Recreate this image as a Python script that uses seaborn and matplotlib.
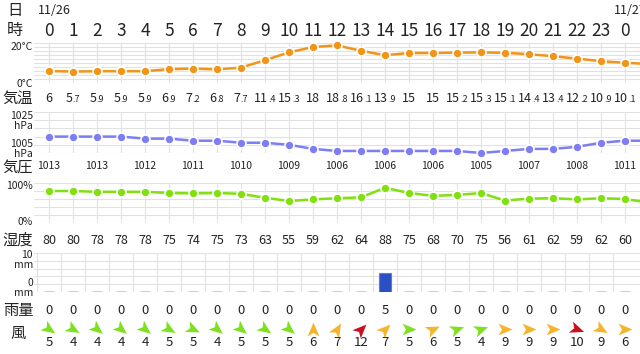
import matplotlib.pyplot as plt
import numpy as np
import seaborn as sns
from matplotlib.markers import MarkerStyle
from matplotlib.path import Path
from matplotlib.transforms import Affine2D, blended_transform_factory
from matplotlib.offsetbox import TextArea, HPacker, AnnotationBbox

# ── data ────────────────────────────────────────────────────────────────
hour_labels = [str(h) for h in range(24)] + ["0"]
temp = [6, 5.7, 5.9, 5.9, 5.9, 6.9, 7.2, 6.8, 7.7, 11.4, 15.3, 18, 18.8,
        16.1, 13.9, 15, 15, 15.2, 15.3, 15.1, 14.4, 13.4, 12.2, 10.9, 10.1]
temp_next = 9.5
pressure = [1013, 1013, 1013, 1013, 1012, 1012, 1011, 1011, 1010, 1010, 1009,
            1007, 1006, 1006, 1006, 1006, 1006, 1006, 1005, 1006, 1007, 1007,
            1008, 1010, 1011]
pressure_next = 1011
humidity = [80, 80, 78, 78, 78, 75, 74, 75, 73, 63, 55, 59, 62, 64, 88, 75,
            68, 70, 75, 56, 61, 62, 59, 62, 60]
humidity_next = 51
rain = [0, 0, 0, 0, 0, 0, 0, 0, 0, 0, 0, 0, 0, 0, 5, 0, 0, 0, 0, 0, 0, 0, 0, 0, 0]
wind_speed = [5, 4, 4, 4, 4, 5, 5, 4, 5, 5, 5, 6, 7, 12, 7, 5, 6, 5, 4, 9, 9,
              9, 10, 9, 6]
wind_angle = [-35, -30, -40, -40, -40, -30, -25, -40, -40, -35, -40, 90, 60,
              45, 45, 0, 25, 20, 20, 0, 0, 0, -20, -30, 0]

TXT = "#222222"
C_TEMP, C_PRES, C_HUM, C_RAIN = "#f29418", "#7d7df5", "#80e010", "#2b4fc4"
GRID = "#e2e2e2"

sns.set_theme(style="white")
plt.rcParams["font.family"] = ["Noto Sans CJK JP", "DejaVu Sans"]

W, H = 640, 354
fig = plt.figure(figsize=(W / 100, H / 100), dpi=100)
hours = np.arange(len(hour_labels))
hours_ext = np.arange(len(hour_labels) + 1)


def fy(ypx):
    return 1 - ypx / H


def panel(top, bottom, ylim, yticks, xgrid):
    ax = fig.add_axes([34 / W, fy(bottom), (W - 34) / W, (bottom - top) / H])
    ax.set_xlim(-0.625, 24.625)
    ax.set_ylim(*ylim)
    ax.set_xticks(xgrid)
    ax.set_yticks(yticks)
    ax.grid(True, color=GRID, lw=0.8)
    ax.tick_params(length=0, labelbottom=False, labelleft=False)
    for s in ax.spines.values():
        s.set_visible(False)
    return ax


line_kw = dict(marker="o", markersize=6.5, markeredgecolor="white",
               markeredgewidth=1.2, linewidth=1.8, clip_on=False)

# temperature
ax_t = panel(43, 83, (0, 20), np.arange(0, 21, 2), hours)
sns.lineplot(x=hours_ext, y=temp + [temp_next], ax=ax_t, color=C_TEMP, **line_kw)

# pressure
ax_p = panel(112, 153, (1005, 1025), np.arange(1005, 1026, 4), hours)
sns.lineplot(x=hours_ext, y=pressure + [pressure_next], ax=ax_p, color=C_PRES, **line_kw)

# humidity
ax_h = panel(183, 223, (0, 100), np.arange(0, 101, 20), hours)
sns.lineplot(x=hours_ext, y=humidity + [humidity_next], ax=ax_h, color=C_HUM, **line_kw)

for ax in (ax_t, ax_p, ax_h):
    ax.set_xlim(-0.625, 24.625)
    ax.set_xlabel("")
    ax.set_ylabel("")

# rain
ax_r = panel(253, 292, (0, 10), np.arange(0, 11, 2), hours - 0.5)
rain_arr = np.array(rain, dtype=float)
wet = rain_arr > 0
ax_r.bar(hours[wet], rain_arr[wet], width=0.5, color=C_RAIN,
         edgecolor="#5b7be0", linewidth=0.8, zorder=3)
ax_r.hlines(rain_arr[~wet], hours[~wet] - 0.22, hours[~wet] + 0.22,
            color="#c8c8c8", lw=2, zorder=3)

# ── text ────────────────────────────────────────────────────────────────
tr = blended_transform_factory(ax_t.transData, fig.transFigure)


def ftext(x, y, s, **kw):
    kw.setdefault("color", TXT)
    kw.setdefault("va", "center")
    fig.text(x / W, fy(y), s, **kw)


ftext(15, 10, "日", fontsize=11, ha="center")
ftext(38, 10, "11/26", fontsize=9, ha="left")
ftext(614, 10, "11/27", fontsize=9, ha="left")
ftext(15, 31, "時", fontsize=11.5, ha="center")
ftext(18, 98, "気温", fontsize=11, ha="center")
ftext(18, 168, "気圧", fontsize=11, ha="center")
ftext(18, 240, "湿度", fontsize=11, ha="center")
ftext(18, 311, "雨量", fontsize=11, ha="center")
ftext(18, 333, "風", fontsize=11, ha="center")

# axis labels
ax_kw = dict(fontsize=7.5, ha="right", linespacing=0.95)
ftext(33, 47, "20°C", **ax_kw)
ftext(33, 84, "0°C", **ax_kw)
ftext(33, 121, "1025\nhPa", **ax_kw)
ftext(33, 149, "1005\nhPa", **ax_kw)
ftext(33, 186, "100%", **ax_kw)
ftext(33, 222, "0%", **ax_kw)
ftext(33, 260, "10\nmm", **ax_kw)
ftext(33, 288, "0\nmm", **ax_kw)

for i, lab in enumerate(hour_labels):
    ax_t.text(i, fy(31), lab, transform=tr, fontsize=12.5, ha="center",
              va="center", color=TXT, clip_on=False)

# temperature values with small decimals
for i, v in enumerate(temp):
    parts = f"{v:g}".split(".")
    kids = [TextArea(parts[0], textprops=dict(fontsize=9, color=TXT))]
    if len(parts) > 1:
        kids.append(TextArea("." + parts[1], textprops=dict(fontsize=6.5, color=TXT)))
    box = HPacker(children=kids, align="baseline", pad=0, sep=0)
    ab = AnnotationBbox(box, (i, fy(98)), xycoords=tr, frameon=False,
                        box_alignment=(0.5, 0.5), pad=0, annotation_clip=False)
    ax_t.add_artist(ab)

for i, v in enumerate(pressure):
    if i % 2 == 0:
        ax_t.text(i, fy(166), str(v), transform=tr, fontsize=7.5, ha="center",
                  va="center", color=TXT, clip_on=False)

for i, v in enumerate(humidity):
    ax_t.text(i, fy(240), str(v), transform=tr, fontsize=9, ha="center",
              va="center", color=TXT, clip_on=False)

for i, v in enumerate(rain):
    ax_t.text(i, fy(311), f"{v:g}", transform=tr, fontsize=9.5, ha="center",
              va="center", color=TXT, clip_on=False)

# wind arrows
dart = Path([(1, 0), (-1, 0.85), (-0.5, 0), (-1, -0.85), (1, 0)],
            [Path.MOVETO, Path.LINETO, Path.LINETO, Path.LINETO, Path.CLOSEPOLY])
for i, (spd, ang) in enumerate(zip(wind_speed, wind_angle)):
    col = "#7ee020" if spd <= 5 else ("#f5b52a" if spd < 10 else "#c8101e")
    m = MarkerStyle(dart, transform=Affine2D().rotate_deg(ang))
    ax_t.plot([i], [fy(329)], transform=tr, marker=m, markersize=10,
              color=col, markeredgewidth=0, clip_on=False, linestyle="none")
    ax_t.text(i, fy(342), str(spd), transform=tr, fontsize=9.5, ha="center",
              va="center", color=TXT, clip_on=False)

fig.savefig("out.png", dpi=100)
